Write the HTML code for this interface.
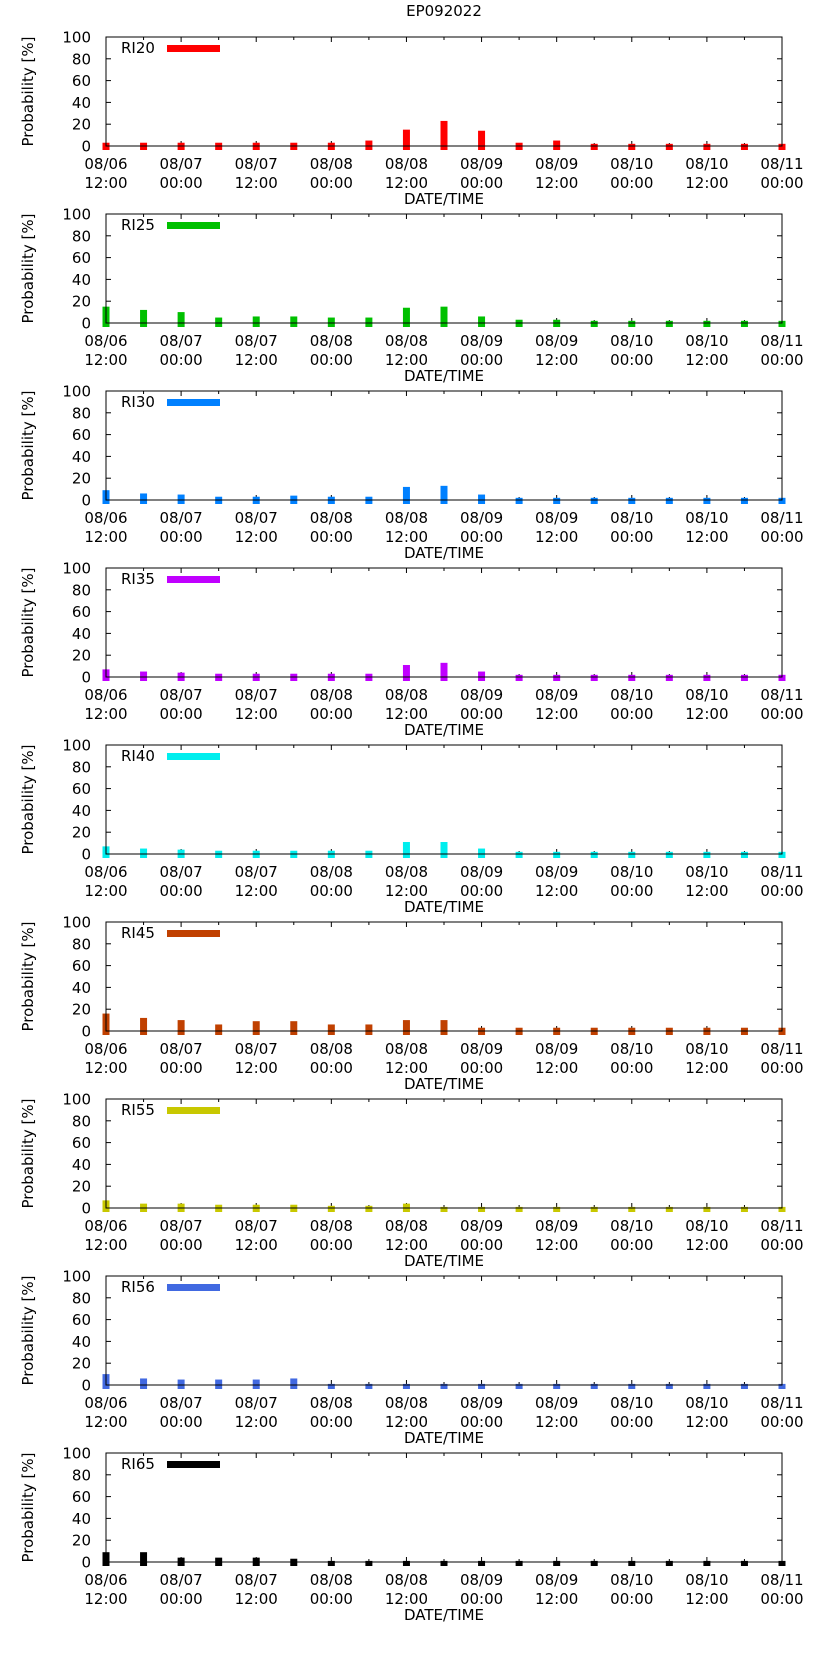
<!DOCTYPE html>
<html><head><meta charset="utf-8"><style>
html,body{margin:0;padding:0;background:#fff;}
svg{display:block;font-family:"DejaVu Sans","Liberation Sans",sans-serif;}
</style></head><body>
<svg id="chart" width="822" height="1653" viewBox="0 0 822 1653">
<text x="444" y="16" font-size="15" text-anchor="middle">EP092022</text>
</svg>
<script>
const seriesNames = ["RI20","RI25","RI30","RI35","RI40","RI45","RI55","RI56","RI65"];
const seriesColors = ["#ff0000","#00c000","#0080ff","#c000ff","#00eeee","#c04000","#c8c800","#4169e1","#000000"];
const ri20 = [3,3,3,3,3,3,3,5,15,23,14,3,5,2,2,2,2,2,2];
const ri25 = [15,12,10,5,6,6,5,5,14,15,6,3,3,2,2,2,2,2,2];
const ri30 = [9,6,5,3,3,4,3,3,12,13,5,2,2,2,2,2,2,2,2];
const ri35 = [7,5,4,3,3,3,3,3,11,13,5,2,2,2,2,2,2,2,2];
const ri40 = [7,5,4,3,3,3,3,3,11,11,5,2,2,2,2,2,2,2,2];
const ri45 = [16,12,10,6,9,9,6,6,10,10,3,3,3,3,3,3,3,3,3];
const ri55 = [7,4,4,3,3,3,2,2,4,1,1,1,1,1,1,1,1,1,1];
const ri56 = [10,6,5,5,5,6,1,1,1,1,1,1,1,1,1,1,1,1,1];
const ri65 = [9,9,4,4,4,3,1,1,1,1,1,1,1,1,1,1,1,1,1];
const hours = [0,6,12,18,24,30,36,42,48,54,60,66,72,78,84,90,96,102,108];
const xTickHours = [0,12,24,36,48,60,72,84,96,108];
const xTickLine1 = ["08/06","08/07","08/07","08/08","08/08","08/09","08/09","08/10","08/10","08/11"];
const xTickLine2 = ["12:00","00:00","12:00","00:00","12:00","00:00","12:00","00:00","12:00","00:00"];
const yTicks = [0,20,40,60,80,100];
const allSeries = [ri20,ri25,ri30,ri35,ri40,ri45,ri55,ri56,ri65];

const svg = document.getElementById('chart');
const NS = 'http://www.w3.org/2000/svg';
const L = 106, R = 782, PH = 109, STEP = 177, TOP0 = 37;
const xs = h => L + (R - L) * h / 108;
function mk(tag, attrs, parent){const e=document.createElementNS(NS,tag);for(const k in attrs)e.setAttribute(k,attrs[k]);(parent||svg).appendChild(e);return e;}

allSeries.forEach((vals, p) => {
  const top = TOP0 + p * STEP, bot = top + PH;
  const ys = v => bot - PH * v / 100;
  const g = mk('g', {});
  
  
  yTicks.forEach(t => {
    const y = ys(t);
    mk('line',{x1:L,x2:L+5,y1:y,y2:y,stroke:'#000','stroke-width':1},g);
    mk('line',{x1:R-5,x2:R,y1:y,y2:y,stroke:'#000','stroke-width':1},g);
    const tx = mk('text',{x:91,y:y+5.5,'font-size':15,'text-anchor':'end'},g);
    tx.textContent = t;
    
    
  });
  hours.forEach(h => {
    const x = xs(h), len = (h % 12 === 0) ? 5 : 3;
    mk('line',{x1:x,x2:x,y1:bot,y2:bot-len,stroke:'#000','stroke-width':1},g);
    mk('line',{x1:x,x2:x,y1:top,y2:top+len,stroke:'#000','stroke-width':1},g);
  });
  xTickHours.forEach((h,i) => {
    const x = xs(h);
    const t1 = mk('text',{x:x,y:bot+23,'font-size':15,'text-anchor':'middle'},g);
    t1.textContent = xTickLine1[i];
    
    
    const t2 = mk('text',{x:x,y:bot+42,'font-size':15,'text-anchor':'middle'},g);
    t2.textContent = xTickLine2[i];
    
    
  });
  const xt = mk('text',{x:(L+R)/2,y:bot+58,'font-size':15,'text-anchor':'middle'},g);
  xt.textContent = 'DATE/TIME';
  
  
  const yt = mk('text',{x:0,y:0,'font-size':15,'text-anchor':'middle',transform:`translate(33,${top+PH/2}) rotate(-90)`},g);
  yt.textContent = 'Probability [%]';
  
  
  vals.forEach((v,i) => {
    const x = xs(hours[i]);
    const b = mk('rect',{x:x-3.5,y:ys(v),width:7,height:bot+4-ys(v),fill:seriesColors[p]},g);
    
    
  });
  const box = mk('rect',{x:L,y:top,width:R-L,height:PH,fill:'none',stroke:'#000','stroke-width':1},g);
  
  
  const lt = mk('text',{x:121,y:top+16,'font-size':15},g);
  lt.textContent = seriesNames[p];
  
  
  const ls = mk('rect',{x:167,y:top+8,width:53,height:7,fill:seriesColors[p]},g);
  
  
});
</script>
</body></html>
